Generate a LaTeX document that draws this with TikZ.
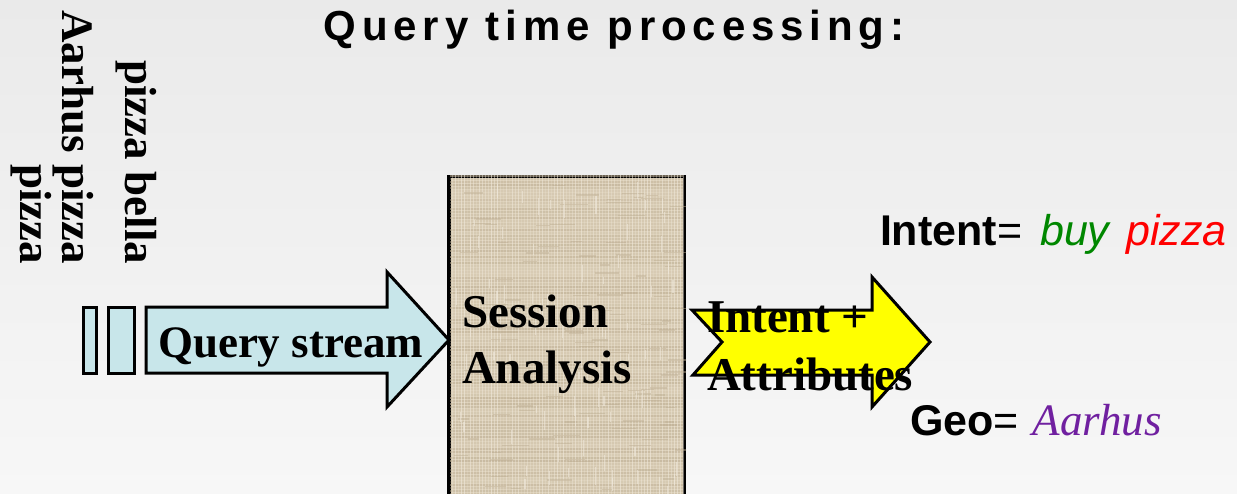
\documentclass[tikz,border=0pt]{standalone}
\usepackage{fontspec}
\setmainfont{Liberation Serif}
\setsansfont{Liberation Sans}
\newfontfamily\titlefont[LetterSpace=14]{Liberation Sans}
\newfontfamily\geoserif{Liberation Serif}
\usetikzlibrary{calc}

\definecolor{bgtop}{RGB}{234,234,234}
\definecolor{bgbot}{RGB}{247,247,247}
\definecolor{streamfill}{RGB}{200,230,234}
\definecolor{sackfill}{RGB}{221,209,186}
\definecolor{sackdark}{RGB}{190,175,148}
\definecolor{sacklight}{RGB}{240,233,220}
\definecolor{outyellow}{RGB}{255,255,0}
\definecolor{intentgreen}{RGB}{0,135,0}
\definecolor{intentred}{RGB}{255,0,0}
\definecolor{geopurple}{RGB}{112,32,160}

\tikzset{
  txt/.style={inner sep=0pt, outer sep=0pt, anchor=base west},
  serifbig/.style={txt, font=\bfseries\fontsize{47}{56}\selectfont},
  vquery/.style={inner sep=0pt, outer sep=0pt, rotate=-90, anchor=base east,
                 font=\bfseries\fontsize{45}{52}\selectfont},
  blockline/.style={draw=black, line width=3pt, line join=miter},
  sidetxt/.style={txt, font=\sffamily\fontsize{43}{48}\selectfont},
}

\begin{document}
\begin{tikzpicture}[x=1pt,y=-1pt]
  % page and background
  \useasboundingbox (0,0) rectangle (1237,493);
  \clip (0,0) rectangle (1237,493);
  \shade[top color=bgtop, bottom color=bgbot] (0,0) rectangle (1237,493);

  % heading
  \node[inner sep=0pt, anchor=base] (title) at (614,40)
    {\titlefont\bfseries\fontsize{42}{46}\selectfont Query time processing:};

  % incoming queries, written sideways
  \node[vquery] (q1) at (125,264) {pizza bella};
  \node[vquery] (q2) at (62,264)  {Aarhus pizza};
  \node[vquery] (q3) at (20,264)  {pizza};

  % session analysis block (runs off the bottom edge)
  \node[blockline, fill=sackfill, anchor=north west, inner sep=0pt,
        minimum width=235pt, minimum height=340pt] (sess) at (448,175) {};
  \begin{scope}
    \clip (sess.north west) rectangle (sess.south east);
    \pgfmathsetseed{17}
    \foreach \k in {0,...,112} {
      \pgfmathsetmacro\op{0.15+0.5*rnd}
      \draw[line width=1.1pt, draw=sackdark, opacity=\op]
        (448,176+3*\k) -- (683,176+3*\k);
    }
    \foreach \k in {0,...,78} {
      \pgfmathsetmacro\op{0.15+0.5*rnd}
      \draw[line width=1.0pt, draw=sacklight, opacity=\op]
        (449+3*\k,175) -- (449+3*\k,515);
    }
    \foreach \k in {0,...,110} {
      \pgfmathsetmacro\px{452+228*rnd}
      \pgfmathsetmacro\py{180+310*rnd}
      \pgfmathsetmacro\ln{8+20*rnd}
      \draw[line width=1.3pt, draw=sackdark, opacity=0.45]
        (\px,\py) -- ++(\ln,0);
    }
    \foreach \k in {0,...,80} {
      \pgfmathsetmacro\px{452+228*rnd}
      \pgfmathsetmacro\py{180+310*rnd}
      \pgfmathsetmacro\ln{6+14*rnd}
      \draw[line width=1.2pt, draw=sacklight, opacity=0.6]
        (\px,\py) -- ++(0,\ln);
    }
  \end{scope}

  % query stream arrow with the two trailing bars
  \node[blockline, fill=streamfill, inner sep=0pt, minimum width=13pt,
        minimum height=66pt] (bar1) at (89.5,340) {};
  \node[blockline, fill=streamfill, inner sep=0pt, minimum width=26pt,
        minimum height=66pt] (bar2) at (121,340) {};
  \coordinate (qtip) at ($(sess.west |- bar2.center)+(1,0)$);
  \draw[blockline, fill=streamfill]
    (146,307) -- (387,307) -- (387,272) -- (qtip) -- (387,407)
    -- (387,373) -- (146,373) -- cycle;
  \draw[blockline] (sess.north west) -- (sess.south west);
  \node[txt, font=\bfseries\fontsize{45}{52}\selectfont] (qs) at (158,357)
    {Query stream};

  \node[serifbig] (sa1) at (462,327) {Session};
  \node[serifbig] (sa2) at (462,383) {Analysis};

  % outgoing notched arrow
  \coordinate (otip) at (930,342);
  \draw[blockline, fill=outyellow]
    (692,310) -- (872,310) -- (872,277) -- (otip) -- (872,407)
    -- (872,375) -- (693,375) -- (722,342) -- cycle;
  \node[serifbig] (ia1) at (707,332) {Intent +};
  \node[serifbig] (ia2) at (707,390) {Attributes};

  % extracted fields
  \node[sidetxt] (intent) at (880,245)
    {\bfseries Intent\mdseries=\hspace{18pt}\itshape\textcolor{intentgreen}{buy}\hspace{17pt}%
     \textcolor{intentred}{pizza}};
  \node[sidetxt] (geo) at (910,435)
    {\bfseries Geo\mdseries=\hspace{14pt}{\geoserif\itshape\fontsize{45}{50}\selectfont
     \textcolor{geopurple}{Aarhus}}};
\end{tikzpicture}
\end{document}
